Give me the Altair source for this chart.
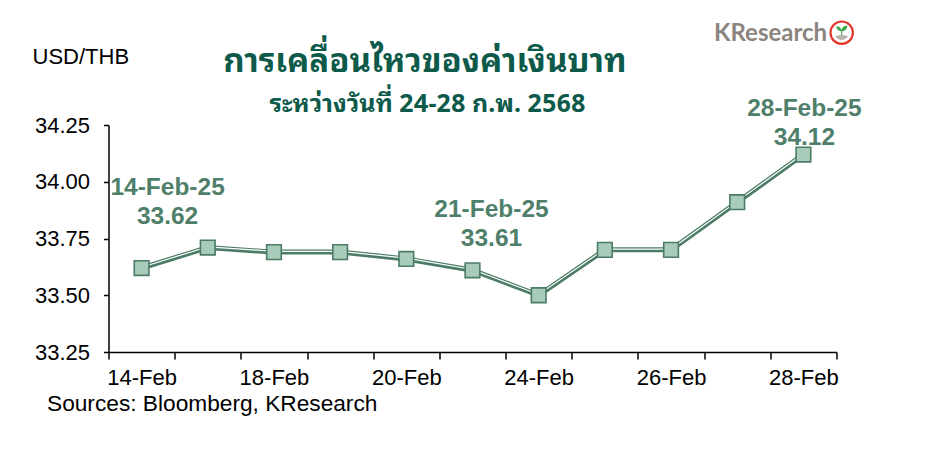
import json
import altair as alt
import pandas as pd

# USD/THB closing rates, 14-28 Feb 2025 (trading days only)
dates = ["14-Feb", "17-Feb", "18-Feb", "19-Feb", "20-Feb", "21-Feb",
         "24-Feb", "25-Feb", "26-Feb", "27-Feb", "28-Feb"]
rates = [33.62, 33.71, 33.69, 33.69, 33.66, 33.61,
         33.50, 33.70, 33.70, 33.91, 34.12]

# categories that carry an axis label
labelled_dates = ["14-Feb", "18-Feb", "20-Feb", "24-Feb", "26-Feb", "28-Feb"]
y_ticks = [33.25, 33.50, 33.75, 34.00, 34.25]

# points called out with date and value
callout_dates = ["14-Feb", "21-Feb", "28-Feb"]

title_text = "การเคลื่อนไหวของค่าเงินบาท"
subtitle_text = "ระหว่างวันที่ 24-28 ก.พ. 2568"
unit_text = "USD/THB"
source_text = "Sources: Bloomberg, KResearch"
brand_text = "KResearch"

GREEN = "#4b7c66"
FILL = "#a9cbb9"
TITLE_GREEN = "#0d5a4a"
LABEL_GREEN = "#4f7f6a"
FONT = "Liberation Sans, Arial, sans-serif"
THAI_FONT = "Noto Sans Thai Looped, Noto Sans Thai, Tahoma, sans-serif"

df = pd.DataFrame({"date": dates, "rate": rates})
df["callout"] = [f"{d}-25\n{r:.2f}" for d, r in zip(dates, rates)]

x_enc = alt.X(
    "date:O",
    sort=dates,
    bandPosition=0.5,
    scale=alt.Scale(type="band", paddingInner=0, paddingOuter=0),
    axis=alt.Axis(
        title=None,
        labelAngle=0,
        tickBand="extent",
        labelExpr=f"indexof({json.dumps(labelled_dates)}, datum.value) >= 0 ? datum.value : ''",
        labelFont=FONT,
        labelFontSize=22,
        labelColor="black",
        labelPadding=8,
        tickSize=7,
        tickColor="black",
        tickWidth=1.5,
        domainColor="black",
        domainWidth=1.5,
        grid=False,
    ),
)
y_enc = alt.Y(
    "rate:Q",
    scale=alt.Scale(domain=[33.25, 34.25], nice=False, zero=False),
    axis=alt.Axis(
        title=None,
        values=y_ticks,
        format=".2f",
        labelFont=FONT,
        labelFontSize=22,
        labelColor="black",
        labelPadding=14,
        tickSize=5,
        tickColor="black",
        tickWidth=1.5,
        domainColor="black",
        domainWidth=1.5,
        grid=False,
    ),
)

base = alt.Chart(df).encode(x=x_enc, y=y_enc)

line_dark = base.mark_line(color=GREEN, strokeWidth=5)
line_light = base.mark_line(color="white", strokeWidth=1.2, yOffset=-0.8)
squares = base.mark_point(
    shape="square", filled=True, size=215, fill=FILL, stroke=GREEN,
    strokeWidth=1.6, opacity=1,
)


def callout(day, dx, dy):
    return base.transform_filter(alt.datum.date == day).mark_text(
        font=FONT, fontSize=24.5, fontWeight="bold", color=LABEL_GREEN,
        lineBreak="\n", lineHeight=29, align="center", baseline="middle",
        dx=dx, dy=dy,
    ).encode(text="callout:N")


callouts = [
    callout(callout_dates[0], 26, -80),
    callout(callout_dates[1], 19, -60),
    callout(callout_dates[2], 1, -46),
]


def free_text(txt, x, y, **kw):
    return alt.Chart(pd.DataFrame({"t": [txt]})).mark_text(**kw).encode(
        x=alt.value(x), y=alt.value(y), text="t:N"
    )


title = free_text(title_text, 316.5, -53, font=THAI_FONT, fontSize=33,
                  fontWeight="bold", color=TITLE_GREEN, align="center",
                  baseline="alphabetic")
subtitle = free_text(subtitle_text, 319, -13, font=THAI_FONT, fontSize=25,
                     fontWeight="bold", color=TITLE_GREEN, align="center",
                     baseline="alphabetic")
unit = free_text(unit_text, -76, -61, font=FONT, fontSize=22, color="black",
                 align="left", baseline="alphabetic")
source = free_text(source_text, -61.5, 286, font=FONT, fontSize=22.7,
                   color="black", align="left", baseline="alphabetic")

# brand mark: word plus ringed sprout badge
brand = free_text(brand_text, 605.5, -84.5, font="Lato, sans-serif",
                  fontSize=24, fontWeight="bold", color="#8c857e",
                  align="left", baseline="alphabetic")
badge_ring = alt.Chart(pd.DataFrame({"t": [0]})).mark_point(
    shape="circle", size=500, filled=True, fill="white", stroke="#e2352b",
    strokeWidth=2.2, opacity=1,
).encode(x=alt.value(733.2), y=alt.value(-92.3))
badge_soil = alt.Chart(pd.DataFrame({"t": [0]})).mark_point(
    shape="M-0.8,0.45 Q0,0.15 0.8,0.45 Q0.5,0.9 0,0.9 Q-0.5,0.9 -0.8,0.45 Z",
    size=260, filled=True, fill="#b9b4ae", strokeWidth=0, opacity=1,
).encode(x=alt.value(733.2), y=alt.value(-92.3))
badge_sprout = alt.Chart(pd.DataFrame({"t": [0]})).mark_point(
    shape=("M-0.08,0.5 L-0.08,-0.05 C-0.4,-0.05 -0.75,-0.3 -0.75,-0.75 "
           "C-0.3,-0.75 -0.05,-0.5 -0.02,-0.15 C0.05,-0.6 0.35,-0.85 0.8,-0.85 "
           "C0.8,-0.35 0.45,-0.05 0.08,-0.05 L0.08,0.5 Z"),
    size=200, filled=True, fill="#3da449", strokeWidth=0, opacity=1,
).encode(x=alt.value(733.2), y=alt.value(-93.5))

chart = alt.layer(
    line_dark, line_light, squares, *callouts,
    title, subtitle, unit, source, brand, badge_ring, badge_soil, badge_sprout,
).properties(
    width=728,
    height=227,
    padding={"left": 108.5, "top": 125, "right": 95.5, "bottom": 117},
    autosize=alt.AutoSizeParams(type="none"),
    background="white",
).configure_view(stroke=None)

chart.save("out.html", embed_options={"renderer": "svg", "actions": False})
